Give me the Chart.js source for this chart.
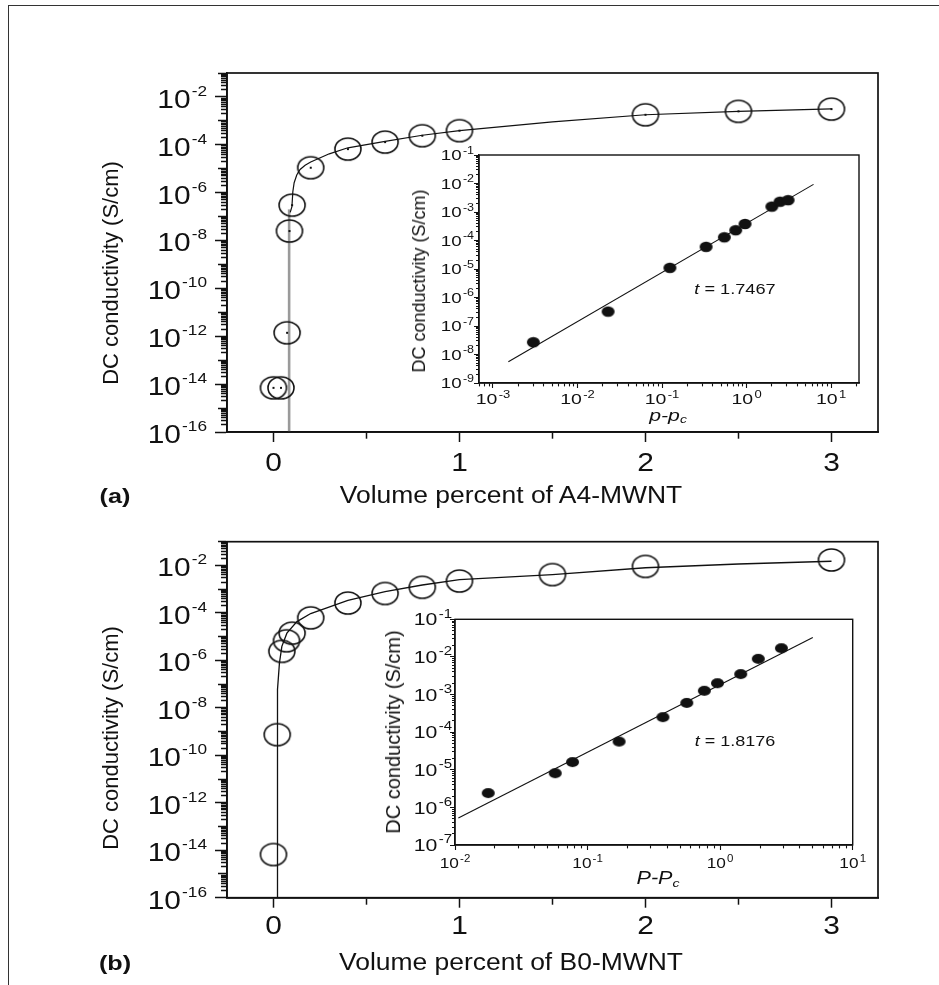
<!DOCTYPE html>
<html lang="en">
<head>
<meta charset="UTF-8">
<title>DC conductivity of MWNT composites</title>
<script src="https://cdn.jsdelivr.net/npm/chart.js"></script>
<style>
  html, body { margin: 0; padding: 0; background: #fff; }
  #fig { position: relative; width: 939px; height: 985px; overflow: hidden;
         font-family: "Liberation Sans", Arial, Helvetica, sans-serif; color: #111; }
  #fig canvas { position: absolute; }
  .frame { position: absolute; left: 8px; top: 5px; width: 960px; height: 1000px;
           border-left: 1.5px solid #333; border-top: 1.5px solid #333; }
  .lbl { position: absolute; white-space: nowrap; line-height: 1; }
  .lbl sub { font-size: 0.65em; vertical-align: -0.25em; line-height: 0; }
</style>
</head>
<body>
<div id="fig">
  <div class="frame"></div>
  <canvas id="mainA" width="939" height="520" style="left:0;top:0"></canvas>
  <canvas id="insetA" width="480" height="280" style="left:400px;top:130px"></canvas>
  <canvas id="mainB" width="939" height="465" style="left:0;top:520px"></canvas>
  <canvas id="insetB" width="500" height="280" style="left:380px;top:595px"></canvas>

  <div class="lbl" style="left:111px;top:273px;font-size:22px;transform:translate(-50%,-50%) rotate(-90deg)">DC conductivity (S/cm)</div>
  <div class="lbl" style="left:111px;top:738px;font-size:22px;transform:translate(-50%,-50%) rotate(-90deg)">DC conductivity (S/cm)</div>
  <div class="lbl" style="left:511px;top:495px;font-size:23px;transform:translate(-50%,-50%) scaleX(1.15)">Volume percent of A4-MWNT</div>
  <div class="lbl" style="left:511px;top:962px;font-size:23px;transform:translate(-50%,-50%) scaleX(1.15)">Volume percent of B0-MWNT</div>
  <div class="lbl" style="left:115px;top:495px;font-size:21px;font-weight:bold;transform:translate(-50%,-50%) scaleX(1.2)">(a)</div>
  <div class="lbl" style="left:115px;top:962px;font-size:21px;font-weight:bold;transform:translate(-50%,-50%) scaleX(1.2)">(b)</div>

  <div class="lbl" style="left:419px;top:281px;font-size:18px;transform:translate(-50%,-50%) rotate(-90deg)">DC conductivity (S/cm)</div>
  <div class="lbl" style="left:668px;top:415px;font-size:17px;font-style:italic;transform:translate(-50%,-50%) scaleX(1.25)">p-p<sub>c</sub></div>
  <div class="lbl" style="left:735px;top:289px;font-size:14px;transform:translate(-50%,-50%) scaleX(1.3)"><i>t</i> = 1.7467</div>

  <div class="lbl" style="left:393px;top:732px;font-size:20px;transform:translate(-50%,-50%) rotate(-90deg)">DC conductivity (S/cm)</div>
  <div class="lbl" style="left:658px;top:878px;font-size:18px;font-style:italic;transform:translate(-50%,-50%) scaleX(1.2)">P-P<sub>c</sub></div>
  <div class="lbl" style="left:735px;top:740px;font-size:15px;transform:translate(-50%,-50%) scaleX(1.2)"><i>t</i> = 1.8176</div>
</div>

<script>
// (a) A4-MWNT, main plot: volume percent vs conductivity (S/cm)
const volA = [0.0, 0.04, 0.073, 0.086, 0.10, 0.20, 0.40, 0.60, 0.80, 1.0, 2.0, 2.5, 3.0];
const sigA = [7e-15, 7e-15, 1.4e-12, 2.5e-8, 3e-7, 1.1e-5, 6.6e-5, 1.3e-4, 2.4e-4, 3.9e-4, 1.8e-3, 2.5e-3, 3.1e-3];
const fitVolA = [0.09, 0.099, 0.104, 0.111, 0.125, 0.143, 0.17, 0.2, 0.3, 0.4, 0.6, 0.8, 1.0, 1.5, 2.0, 2.5, 3.0];
const fitSigA = [1.5e-7, 2.6e-7, 1.1e-6, 2.6e-6, 5.5e-6, 9.3e-6, 1.4e-5, 1.9e-5, 4.2e-5, 7.5e-5, 1.4e-4, 2.5e-4, 3.9e-4, 9e-4, 1.8e-3, 2.5e-3, 3.2e-3];
const pcVolA = [0.084, 0.084];
const pcSigA = [1e-16, 2e-7];

// (a) inset: p - pc vs conductivity
const dpA = [0.003, 0.023, 0.124, 0.332, 0.546, 0.745, 0.96, 1.99, 2.49, 3.1];
const dsA = [2.7e-8, 3.2e-7, 1.1e-5, 6e-5, 1.3e-4, 2.3e-4, 3.8e-4, 1.55e-3, 2.3e-3, 2.6e-3];
const fitDpA = [1.52e-3, 6.2];
const fitDsA = [5.6e-9, 9.3e-3];

// (b) B0-MWNT, main plot
const volB = [0.0, 0.02, 0.045, 0.07, 0.10, 0.20, 0.40, 0.60, 0.80, 1.0, 1.5, 2.0, 3.0];
const sigB = [6.6e-15, 7.4e-10, 2.4e-6, 6.7e-6, 1.4e-5, 6.2e-5, 2.6e-4, 6.6e-4, 1.2e-3, 2.2e-3, 4.1e-3, 9.1e-3, 1.7e-2];
const fitVolB = [0.0215, 0.0215, 0.032, 0.045, 0.072, 0.126, 0.2, 0.4, 0.6, 0.8, 1.0, 1.5, 2.0, 2.5, 3.0];
const fitSigB = [1e-16, 5.9e-8, 7.8e-7, 3.9e-6, 1.4e-5, 4.3e-5, 9.4e-5, 3.4e-4, 7.9e-4, 1.5e-3, 2.5e-3, 4.1e-3, 8e-3, 1.15e-2, 1.5e-2];

// (b) inset
const dpB = [0.0178, 0.057, 0.077, 0.173, 0.37, 0.56, 0.76, 0.955, 1.43, 1.94, 2.9];
const dsB = [2.4e-6, 8.1e-6, 1.6e-5, 5.6e-5, 2.5e-4, 6e-4, 1.26e-3, 2e-3, 3.5e-3, 8.9e-3, 1.7e-2];
const fitDpB = [0.0106, 5.0];
const fitDsB = [5.2e-7, 3.3e-2];

// tick labels (log axes hold exponents)
const mainXTicks = [0, 1, 2, 3];
const mainXMinor = [0, 0.5, 1, 1.5, 2, 2.5, 3];
const mainYExp = [-16, -14, -12, -10, -8, -6, -4, -2];
const insetAXExp = [-3, -2, -1, 0, 1];
const insetAYExp = [-9, -8, -7, -6, -5, -4, -3, -2, -1];
const insetBXExp = [-2, -1, 0, 1];
const insetBYExp = [-7, -6, -5, -4, -3, -2, -1];

const ink = '#111';
const family = '"Liberation Sans", Arial, Helvetica, sans-serif';

function ellipseMark(w, h, filled, dot) {
  const c = document.createElement('canvas');
  c.width = w + 4; c.height = h + 4;
  const g = c.getContext('2d');
  g.beginPath();
  g.ellipse(c.width / 2, c.height / 2, w / 2, h / 2, 0, 0, Math.PI * 2);
  if (filled) { g.fillStyle = ink; g.fill(); }
  else { g.strokeStyle = ink; g.lineWidth = 1.6; g.stroke(); }
  if (dot) { g.fillStyle = ink; g.fillRect(c.width / 2 - 1, c.height / 2 - 1, 2, 2); }
  return c;
}

function decadeTicks(min, max) {
  const out = [];
  const e0 = Math.floor(Math.log10(min) + 1e-9), e1 = Math.ceil(Math.log10(max) - 1e-9);
  for (let e = e0; e <= e1; e++) {
    for (let m = 1; m <= 9; m++) {
      const v = m * Math.pow(10, e);
      if (v >= min * 0.999999 && v <= max * 1.000001) out.push({ value: v, major: m === 1 });
    }
  }
  return out;
}

function tickLen(o, v) {
  if (!o.log) return o.labelled.some(t => Math.abs(t - v) < 1e-9) ? o.lens[0] : o.lens[1];
  const lg = Math.log10(v), r = Math.round(lg);
  if (Math.abs(lg - r) > 1e-6) return o.lens[2];
  return o.labelled.includes(r) ? o.lens[0] : o.lens[1];
}

function axis(o) {
  const TL = o.lens[0];
  const horizontal = o.pos === 'bottom';
  return {
    type: o.log ? 'logarithmic' : 'linear',
    position: o.pos,
    min: o.min, max: o.max,
    afterBuildTicks: s => {
      s.ticks = o.log ? decadeTicks(o.min, o.max) : o.ticks.map(v => ({ value: v }));
    },
    afterFit: s => { if (horizontal) s.height = o.size; else s.width = o.size; },
    ticks: { display: false, maxTicksLimit: 1000, callback: () => '' },
    border: { display: true, color: ink, width: o.border },
    grid: {
      display: true, drawOnChartArea: false, drawTicks: true,
      tickLength: TL, tickColor: ink, tickWidth: o.tickWidth,
      tickBorderDash: c => {
        if (!c.tick) return [];
        const L = tickLen(o, c.tick.value);
        return horizontal ? [L, 60] : [0, TL - L, L, 60];
      }
    }
  };
}

// draws "10" with a raised exponent (or a plain number) next to each labelled tick
function tickText(specs) {
  return {
    id: 'tickText',
    afterDraw(chart) {
      const ctx = chart.ctx;
      ctx.save();
      ctx.fillStyle = ink;
      ctx.textAlign = 'left';
      ctx.textBaseline = 'alphabetic';
      for (const s of specs) {
        const scale = chart.scales[s.axis];
        for (const v of s.values) {
          const p = scale.getPixelForValue(s.pow ? Math.pow(10, v) : v);
          const base = s.pow ? '10' : String(v);
          const sup = s.pow ? String(v) : '';
          ctx.font = s.size + 'px ' + family;
          const wb = ctx.measureText(base).width * s.sx;
          ctx.font = s.sup + 'px ' + family;
          const ws = sup ? (ctx.measureText(sup).width + 1) * s.sx : 0;
          const w = wb + ws;
          let x, cy;
          if (scale.isHorizontal()) { x = p - w / 2; cy = scale.top + s.gap; }
          else { x = scale.right - s.gap - w; cy = p + (s.dy || 0); }
          ctx.save();
          ctx.translate(x, cy + 0.36 * s.size);
          ctx.scale(s.sx, 1);
          ctx.font = s.size + 'px ' + family;
          ctx.fillText(base, 0, 0);
          if (sup) {
            ctx.font = s.sup + 'px ' + family;
            ctx.fillText(sup, wb / s.sx + 1, -0.46 * s.size);
          }
          ctx.restore();
        }
      }
      ctx.restore();
    }
  };
}

const boxFrame = {
  id: 'boxFrame',
  afterDraw(chart, args, opts) {
    const { ctx, chartArea: a } = chart;
    ctx.save();
    ctx.strokeStyle = ink;
    ctx.lineWidth = opts.width || 1.5;
    ctx.strokeRect(a.left, a.top, a.right - a.left, a.bottom - a.top);
    ctx.restore();
  }
};
Chart.register(boxFrame);

const pts = (xs, ys) => xs.map((x, i) => ({ x, y: ys[i] }));
const lineSet = (xs, ys, color, width) => ({
  data: pts(xs, ys), showLine: true, borderColor: color, borderWidth: width,
  pointRadius: 0, pointHoverRadius: 0, fill: false, tension: 0
});
const markSet = (xs, ys, img) => ({
  data: pts(xs, ys), showLine: false, pointStyle: img, pointRadius: 6, pointHoverRadius: 6, borderWidth: 0
});

function makeChart(id, datasets, xAxis, yAxis, pad, frameW, labels) {
  return new Chart(document.getElementById(id), {
    type: 'scatter',
    data: { datasets },
    options: {
      responsive: false, animation: false, events: [],
      layout: { padding: pad, autoPadding: false },
      plugins: { legend: { display: false }, tooltip: { enabled: false }, boxFrame: { width: frameW } },
      scales: { x: xAxis, y: yAxis }
    },
    plugins: [tickText(labels)]
  });
}

const ringDot = ellipseMark(26, 22, false, true);
const ring = ellipseMark(26, 22, false, false);
const blotA = ellipseMark(13, 10.5, true, false);
const blotB = ellipseMark(13, 10, true, false);

const mainX = size => axis({ pos: 'bottom', log: false, min: -0.25, max: 3.25, ticks: mainXMinor,
  labelled: mainXTicks, lens: [10, 6], size, border: 1.7, tickWidth: 1.5 });
const mainY = () => axis({ pos: 'left', log: true, min: 1e-16, max: 1e-1,
  labelled: mainYExp, lens: [12, 9, 6], size: 227, border: 1.7, tickWidth: 1.4 });
const mainYText = { axis: 'y', values: mainYExp, pow: true, size: 26, sup: 15, sx: 1.15, gap: 20, dy: 1.5 };

makeChart('mainA', [
  markSet(volA, sigA, ringDot),
  lineSet(fitVolA, fitSigA, ink, 1.2),
  lineSet(pcVolA, pcSigA, '#9a9a9a', 2.6)
], mainX(88), mainY(), { left: 0, top: 73, right: 61, bottom: 0 }, 1.7, [
  mainYText,
  { axis: 'x', values: mainXTicks, pow: false, size: 26, sup: 15, sx: 1.15, gap: 30 }
]);

makeChart('insetA', [
  markSet(dpA, dsA, blotA),
  lineSet(fitDpA, fitDsA, ink, 1.1)
], axis({ pos: 'bottom', log: true, min: 6.83e-4, max: 21.4, labelled: insetAXExp,
          lens: [5, 5, 3], size: 27, border: 1.4, tickWidth: 1.1 }),
   axis({ pos: 'left', log: true, min: 1e-9, max: 1e-1, labelled: insetAYExp,
          lens: [5, 5, 3], size: 79, border: 1.4, tickWidth: 1.1 }),
   { left: 0, top: 25, right: 21, bottom: 0 }, 1.4, [
  { axis: 'y', values: insetAYExp, pow: true, size: 15, sup: 10, sx: 1.25, gap: 5, dy: 0 },
  { axis: 'x', values: insetAXExp, pow: true, size: 15, sup: 10, sx: 1.3, gap: 16 }
]);

makeChart('mainB', [
  markSet(volB, sigB, ring),
  lineSet(fitVolB, fitSigB, ink, 1.3)
], mainX(87.3), mainY(), { left: 0, top: 21.7, right: 61, bottom: 0 }, 1.7, [
  mainYText,
  { axis: 'x', values: mainXTicks, pow: false, size: 26, sup: 15, sx: 1.15, gap: 27 }
]);

makeChart('insetB', [
  markSet(dpB, dsB, blotB),
  lineSet(fitDpB, fitDsB, ink, 1.1)
], axis({ pos: 'bottom', log: true, min: 1e-2, max: 10, labelled: insetBXExp,
          lens: [5, 5, 3], size: 30, border: 1.4, tickWidth: 1.1 }),
   axis({ pos: 'left', log: true, min: 1e-7, max: 1e-1, labelled: insetBYExp,
          lens: [5, 5, 3], size: 75, border: 1.4, tickWidth: 1.1 }),
   { left: 0, top: 24.3, right: 27.3, bottom: 0 }, 1.4, [
  { axis: 'y', values: insetBYExp, pow: true, size: 17, sup: 12, sx: 1.25, gap: 3, dy: 0 },
  { axis: 'x', values: insetBXExp, pow: true, size: 15, sup: 10, sx: 1.15, gap: 18 }
]);
</script>
</body>
</html>
